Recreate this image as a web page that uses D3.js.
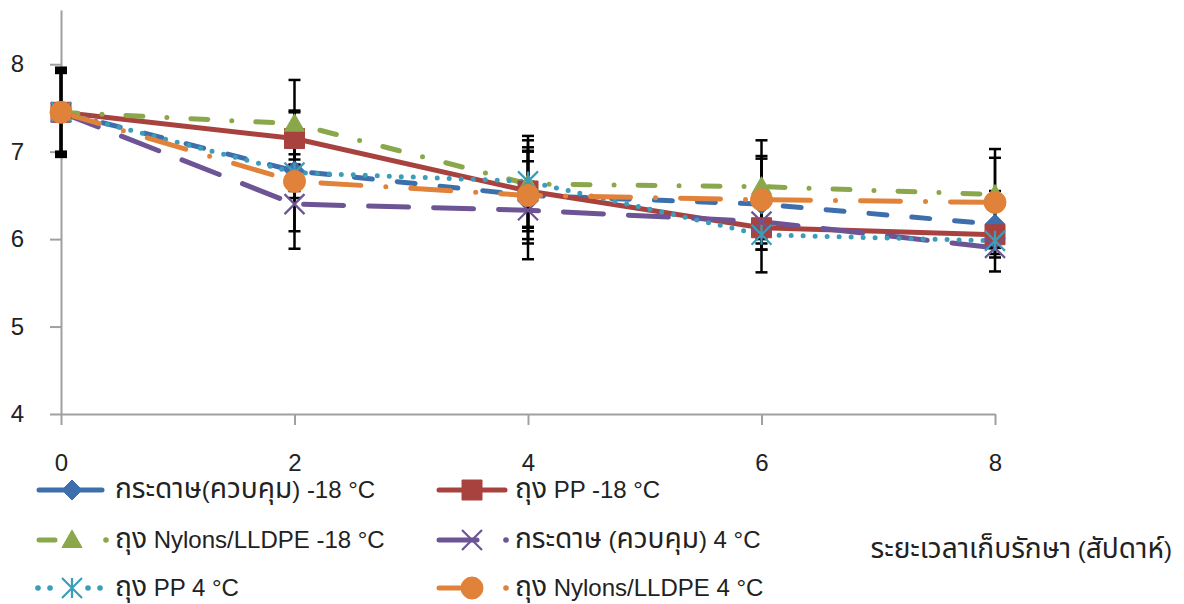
<!doctype html>
<html>
<head>
<meta charset="utf-8">
<style>
  body { margin: 0; background: #fff; }
  #chart { display: block; font-family: "Liberation Sans", Arial, "Noto Sans Thai", "Noto Sans", sans-serif; }
  .axis path, .axis line { stroke: #a0a0a0; stroke-width: 2; }
  .axis text { fill: #222; font-size: 24px; }
  .legend text { fill: #222; font-size: 24px; }
</style>
</head>
<body>
<svg id="chart" width="1184" height="604"></svg>
<script src="https://d3js.org/d3.v7.min.js"></script>
<script>
// weeks of storage
var weeks = [0, 2, 4, 6, 8];
var xTicks = [0, 2, 4, 6, 8];
var yTicks = [4, 5, 6, 7, 8];

var seriesNames = [
  "กระดาษ(ควบคุม) -18 °C",
  "ถุง PP -18 °C",
  "ถุง Nylons/LLDPE -18 °C",
  "กระดาษ (ควบคุม) 4 °C",
  "ถุง PP 4 °C",
  "ถุง Nylons/LLDPE 4 °C"
];

// means
var paper18  = [7.45, 6.78, 6.50, 6.40, 6.17];
var pp18     = [7.45, 7.15, 6.55, 6.13, 6.05];
var nylon18  = [7.45, 7.32, 6.63, 6.60, 6.51];
var paper4   = [7.45, 6.40, 6.33, 6.20, 5.90];
var pp4      = [7.45, 6.76, 6.66, 6.05, 5.98];
var nylon4   = [7.45, 6.66, 6.50, 6.45, 6.42];

// error bar sizes (+/-)
var paper18Err = [0.48, 0.69, 0.50, 0.52, 0.38];
var pp18Err    = [0.47, 0.30, 0.46, 0.25, 0.15];
var nylon18Err = [0.51, 0.50, 0.50, 0.53, 0.52];
var paper4Err  = [0.50, 0.51, 0.56, 0.20, 0.27];
var pp4Err     = [0.45, 0.21, 0.52, 0.43, 0.15];
var nylon4Err  = [0.48, 0.19, 0.55, 0.50, 0.51];

var xTitle = "ระยะเวลาเก็บรักษา (สัปดาห์)";

var series = [
  {name: seriesNames[0], vals: paper18, err: paper18Err, color: "#3e6fad", dash: "18 25", marker: "diamond"},
  {name: seriesNames[1], vals: pp18,    err: pp18Err,    color: "#a8423f", dash: null,    marker: "square"},
  {name: seriesNames[2], vals: nylon18, err: nylon18Err, color: "#8aa84b", dash: "17 24 0 24", marker: "triangle"},
  {name: seriesNames[3], vals: paper4,  err: paper4Err,  color: "#6d5495", dash: "40 25", marker: "x"},
  {name: seriesNames[4], vals: pp4,     err: pp4Err,     color: "#3b9db9", dash: "0 12",  marker: "star"},
  {name: seriesNames[5], vals: nylon4,  err: nylon4Err,  color: "#e0823a", dash: "40 25 0 25", marker: "circle"}
];

var svg = d3.select("#chart");
svg.append("rect").attr("width", 1184).attr("height", 604).attr("fill", "#fff");

var x = d3.scaleLinear().domain([0, 8]).range([61, 995]);
var y = d3.scaleLinear().domain([4, 8.62]).range([414, 10]);

var yAxis = d3.axisLeft(y).tickValues(yTicks).tickFormat(d3.format("d"))
  .tickSize(11).tickSizeOuter(0).tickPadding(26);
var xAxis = d3.axisBottom(x).tickValues(xTicks).tickFormat(d3.format("d"))
  .tickSize(11).tickSizeOuter(0).tickPadding(29);

svg.append("g").attr("class", "axis y")
  .attr("transform", "translate(61,0)")
  .call(yAxis);
svg.append("g").attr("class", "axis x")
  .attr("transform", "translate(0,414)")
  .call(xAxis);

// thai runs come out narrower than the original font, so bump them up a bit
function thaiText(sel, str, size) {
  var parts = str.match(/[\u0E00-\u0E7F]+|[^\u0E00-\u0E7F]+/g);
  parts.forEach(function(p) {
    var t = sel.append("tspan").text(p);
    if (/[\u0E00-\u0E7F]/.test(p)) t.attr("font-size", (size * 1.17) + "px");
  });
}

function markerPath(type, s) {
  var h = s / 2;
  if (type == "diamond") return "M0," + (-h) + "L" + h + ",0L0," + h + "L" + (-h) + ",0Z";
  if (type == "square") return "M" + (-h) + "," + (-h) + "h" + s + "v" + s + "h" + (-s) + "Z";
  if (type == "triangle") return "M0," + (-h) + "L" + h + "," + (h * 0.75) + "L" + (-h) + "," + (h * 0.75) + "Z";
  if (type == "circle") return d3.symbol(d3.symbolCircle, Math.PI * (h + 1) * (h + 1))();
  if (type == "x") return "M" + (-h) + "," + (-h) + "L" + h + "," + h + "M" + h + "," + (-h) + "L" + (-h) + "," + h;
  if (type == "star") return "M" + (-h) + "," + (-h) + "L" + h + "," + h + "M" + h + "," + (-h) + "L" + (-h) + "," + h + "M0," + (-h) + "V" + h;
}

function drawMarker(g, d, cx, cy) {
  var p = g.append("path")
    .attr("transform", "translate(" + cx + "," + cy + ")")
    .attr("d", markerPath(d.marker, 20));
  if (d.marker == "x" || d.marker == "star") {
    p.attr("fill", "none").attr("stroke", d.color).attr("stroke-width", 2.2);
  } else {
    p.attr("fill", d.color).attr("stroke", d.color).attr("stroke-width", 1);
  }
}

var line = d3.line()
  .x(function(d, i) { return x(weeks[i]); })
  .y(function(d) { return y(d); });

// lines
svg.append("g").selectAll("path")
  .data(series)
  .enter().append("path")
    .attr("d", function(d) { return line(d.vals); })
    .attr("fill", "none")
    .attr("stroke", function(d) { return d.color; })
    .attr("stroke-width", 5)
    .attr("stroke-linecap", function(d) { return d.dash ? "round" : "butt"; })
    .attr("stroke-dasharray", function(d) { return d.dash; });

// error bars
var eb = svg.append("g");
series.forEach(function(s) {
  s.vals.forEach(function(v, i) {
    var cx = x(weeks[i]);
    var y1 = y(v + s.err[i]), y2 = y(v - s.err[i]);
    eb.append("line").attr("x1", cx).attr("x2", cx).attr("y1", y1).attr("y2", y2)
      .attr("stroke", "#000").attr("stroke-width", 2.5);
    [y1, y2].forEach(function(yy) {
      eb.append("line").attr("x1", cx - 6).attr("x2", cx + 6).attr("y1", yy).attr("y2", yy)
        .attr("stroke", "#000").attr("stroke-width", 2.5);
    });
  });
});

// markers
var mk = svg.append("g");
series.forEach(function(s) {
  s.vals.forEach(function(v, i) {
    drawMarker(mk, s, x(weeks[i]), y(v));
  });
});

// legend
var legendX = [72, 472];
var legendY = [490, 540, 588];
var leg = svg.append("g").attr("class", "legend");
series.forEach(function(s, i) {
  var cx = legendX[i % 2], cy = legendY[Math.floor(i / 2)];
  var g = leg.append("g");
  function seg(a, b) {
    g.append("line").attr("x1", cx + a).attr("x2", cx + b).attr("y1", cy).attr("y2", cy)
      .attr("stroke", s.color).attr("stroke-width", 5).attr("stroke-linecap", "round");
  }
  function dot(a) {
    g.append("circle").attr("cx", cx + a).attr("cy", cy).attr("r", 2.8).attr("fill", s.color);
  }
  if (s.marker == "diamond") seg(-33, 30);
  if (s.marker == "square") seg(-33, 33);
  if (s.marker == "triangle") { seg(-33, -17); dot(34); }
  if (s.marker == "x") { seg(-33, 5); dot(34); }
  if (s.marker == "star") { dot(-34); dot(-22); dot(16); dot(28); }
  if (s.marker == "circle") { seg(-33, -3); dot(34); }
  drawMarker(g, s, cx, cy);
  thaiText(g.append("text").attr("x", cx + 43).attr("y", cy + 8), s.name, 24);
});

thaiText(svg.append("text")
  .attr("x", 1172).attr("y", 558)
  .attr("text-anchor", "end")
  .attr("fill", "#222")
  .attr("font-size", "24px"), xTitle, 24);
</script>
</body>
</html>
